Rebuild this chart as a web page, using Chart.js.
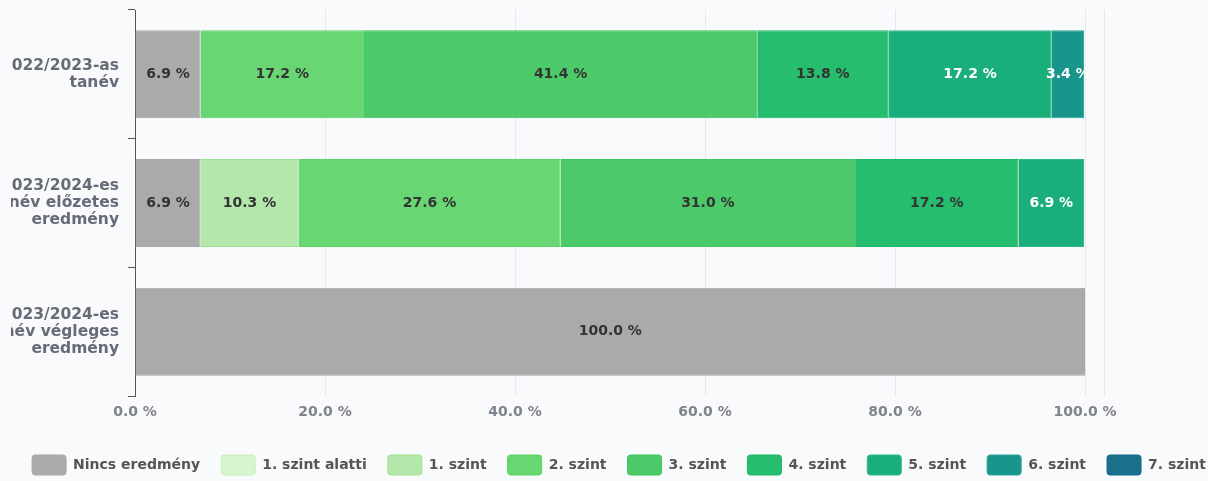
<!DOCTYPE html>
<html lang="hu">
<head>
<meta charset="UTF-8">
<title>Szintek megoszlása</title>
<script src="https://cdn.jsdelivr.net/npm/chart.js"></script>
<style>
  body { margin: 0; background: #f9fafb; overflow: hidden; }
  #clip { position: absolute; left: 11px; top: 0; width: 1197px; height: 481px; overflow: hidden; }
  #wrap { position: absolute; left: -12px; top: 0; width: 1240px; height: 485px; }
</style>
</head>
<body>
<div id="clip"><div id="wrap"><canvas id="chart"></canvas></div></div>
<script>
// tanévek (y tengely)
const categories = [
  ['2022/2023-as', 'tanév'],
  ['2023/2024-es', 'tanév előzetes', 'eredmény'],
  ['2023/2024-es', 'tanév végleges', 'eredmény']
];

const seriesNames = ['Nincs eredmény', '1. szint alatti', '1. szint', '2. szint', '3. szint',
  '4. szint', '5. szint', '6. szint', '7. szint'];

// százalékok tanévenként, sorrendben: 2022/23, 2023/24 előzetes, 2023/24 végleges
const nincs   = [6.9, 6.9, 100.0];
const alatti  = [0, 0, 0];
const szint1  = [0, 10.3, 0];
const szint2  = [17.2, 27.6, 0];
const szint3  = [41.4, 31.0, 0];
const szint4  = [13.8, 17.2, 0];
const szint5  = [17.2, 6.9, 0];
const szint6  = [3.4, 0, 0];
const szint7  = [0, 0, 0];

const xTicks = [0, 20, 40, 60, 80, 100];
const xMax = 102;

const seriesData = [nincs, alatti, szint1, szint2, szint3, szint4, szint5, szint6, szint7];
const colors = [
  'rgba(161,161,161,0.9)', 'rgba(208,245,201,0.9)', 'rgba(172,230,161,0.9)',
  'rgba(88,209,99,0.9)', 'rgba(57,195,89,0.9)', 'rgba(15,182,94,0.9)',
  'rgba(0,165,108,0.9)', 'rgba(0,139,128,0.9)', 'rgba(0,95,128,0.9)'
];
const borders = ['#a8a8a8', '#c8f0c0', '#9de290', '#5ad466', '#3fc45f', '#1cb866',
  '#2bbb8a', '#2aa59c', '#10688a'];
const labelColors = ['#333', '#333', '#333', '#333', '#333', '#333', '#fff', '#fff', '#fff'];

const datasets = seriesNames.map((name, i) => ({
  label: name,
  data: seriesData[i],
  backgroundColor: colors[i],
  borderColor: borders[i],
  borderWidth: 1,
  barPercentage: 0.855,
  categoryPercentage: 0.8
}));

// százalék feliratok a sávok közepére
const barLabels = {
  id: 'barLabels',
  afterDatasetsDraw(chart) {
    const ctx = chart.ctx;
    ctx.save();
    ctx.font = 'bold 14px "DejaVu Sans", sans-serif';
    ctx.textAlign = 'center';
    ctx.textBaseline = 'middle';
    chart.data.datasets.forEach((ds, i) => {
      const meta = chart.getDatasetMeta(i);
      meta.data.forEach((bar, j) => {
        const v = ds.data[j];
        if (!v) return;
        const p = bar.getCenterPoint();
        ctx.fillStyle = labelColors[i];
        ctx.fillText(v.toFixed(1) + ' %', p.x, p.y);
      });
    });
    ctx.restore();
  }
};

new Chart(document.getElementById('chart'), {
  type: 'bar',
  data: { labels: categories, datasets: datasets },
  plugins: [barLabels],
  options: {
    indexAxis: 'y',
    responsive: true,
    maintainAspectRatio: false,
    animation: false,
    layout: { padding: { top: 10, right: 0, bottom: 0, left: 0 } },
    scales: {
      x: {
        stacked: true,
        min: 0,
        max: xMax,
        afterBuildTicks: s => { s.ticks = xTicks.concat([xMax]).map(v => ({ value: v })); },
        afterFit: s => { s.height = 38; },
        grid: { color: '#e6e8f0', drawTicks: false },
        border: { display: false },
        ticks: {
          padding: 8,
          color: '#80828c',
          font: { family: '"DejaVu Sans", sans-serif', size: 14, weight: 'bold' },
          callback: v => v > 100 ? '' : v.toFixed(1) + ' %'
        }
      },
      y: {
        stacked: true,
        afterFit: s => { s.width = 136; s.paddingTop = 0; s.paddingBottom = 0; },
        grid: { drawOnChartArea: false, color: '#555', tickLength: 7 },
        border: { display: true, color: '#555' },
        ticks: {
          color: '#686a78',
          padding: 9,
          font: { family: '"DejaVu Sans", sans-serif', size: 15.5, weight: 'bold', lineHeight: 1.1 }
        }
      },
      // üres hely a jobb oldalon (a jelmagyarázat a teljes szélességet kapja)
      yRight: {
        type: 'category',
        position: 'right',
        afterFit: s => { s.width = 135; s.paddingTop = 0; s.paddingBottom = 0; },
        grid: { display: false },
        border: { display: false },
        ticks: { display: false }
      }
    },
    plugins: {
      tooltip: { enabled: false },
      legend: {
        position: 'bottom',
        labels: {
          boxWidth: 34,
          boxHeight: 20,
          useBorderRadius: true,
          borderRadius: 3,
          padding: 21,
          color: '#555',
          font: { family: '"DejaVu Sans", sans-serif', size: 14, weight: 'bold' }
        }
      }
    }
  }
});
</script>
</body>
</html>
